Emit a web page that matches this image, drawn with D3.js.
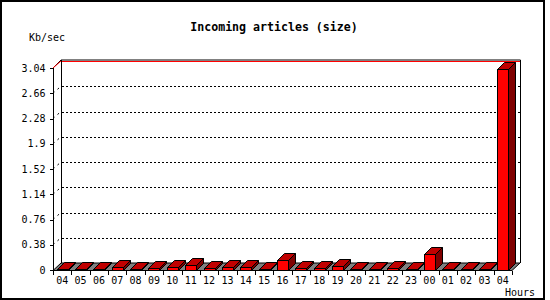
<!DOCTYPE html>
<html>
<head>
<meta charset="utf-8">
<script src="https://cdn.jsdelivr.net/npm/d3@7"></script>
<style>
body { margin: 0; background: #fff; }
svg { display: block; shape-rendering: crispEdges; }
text { font-family: "DejaVu Sans Mono", monospace; fill: #000; }
</style>
</head>
<body>
<div class="chart"></div>
<script>
// hours of the day (last 24h window)
const hours = ["04","05","06","07","08","09","10","11","12","13","14","15","16",
  "17","18","19","20","21","22","23","00","01","02","03","04"];
// incoming size, Kb/sec
const kbps = [0.01,0.01,0.01,0.04,0.02,0.03,0.05,0.07,0.03,0.05,0.05,0.02,0.15,
  0.03,0.03,0.06,0.02,0.02,0.03,0.02,0.24,0.02,0.02,0.01,3.03];
const yTicks = [0,0.38,0.76,1.14,1.52,1.9,2.28,2.66,3.04];

const width = 550, height = 300;
const plotLeft = 53, plotRight = 512, plotTop = 68, plotBottom = 270;
const DX = 8, DY = -7;      // depth of the back wall
const BX = 7, BY = -7;      // depth of a bar

const svg = d3.select(".chart").append("svg")
  .attr("width", width).attr("height", height);

// outer frame
svg.append("rect")
  .attr("x", 1).attr("y", 1).attr("width", 543).attr("height", 298)
  .attr("fill", "none").attr("stroke", "#000").attr("stroke-width", 2);

const x = d3.scaleBand().domain(d3.range(hours.length))
  .range([plotLeft, plotRight]).paddingInner(0.4).paddingOuter(0.2);
const step = x.step();
const y = d3.scaleLinear().domain([0, 3.04]).range([plotBottom, plotTop]);

svg.append("text").attr("x", 274).attr("y", 31)
  .attr("text-anchor", "middle").style("font-size", "11.6px").style("font-weight", "bold")
  .text("Incoming articles (size)");
svg.append("text").attr("x", 29).attr("y", 41).style("font-size", "10px").text("Kb/sec");
svg.append("text").attr("x", 505).attr("y", 296).style("font-size", "10px").text("Hours");

// back wall frame
const backTop = y(3.04) + DY - 1;
svg.append("path")
  .attr("d", `M${plotLeft},${y(3.04)}L${plotLeft + DX},${backTop}L${plotRight + DX + 0.5},${backTop}L${plotRight + DX + 0.5},${plotBottom + DY}`
    + `M${plotLeft + DX + 0.5},${backTop}L${plotLeft + DX + 0.5},${plotBottom + DY}`)
  .attr("fill", "none").attr("stroke", "#000").attr("shape-rendering", "auto");

// grid lines on the back wall
const grid = svg.append("g");
yTicks.slice(1).forEach(v => {
  const yy = Math.round(y(v) + DY) + 0.5;
  const last = v === 3.04;
  grid.append("line")
    .attr("x1", plotLeft + DX + 1).attr("x2", plotRight + DX)
    .attr("y1", yy).attr("y2", yy)
    .attr("stroke", last ? "#f00" : "#000")
    .attr("stroke-dasharray", last ? null : "2,2");
  grid.append("line")
    .attr("x1", plotLeft).attr("y1", y(v))
    .attr("x2", plotLeft + DX).attr("y2", y(v) + DY)
    .attr("stroke", last ? "#f00" : "#000")
    .attr("stroke-dasharray", last ? null : "2,4")
    .attr("shape-rendering", "auto");
});

// floor
svg.append("path")
  .attr("d", `M${plotLeft},${plotBottom + 0.5}L${plotRight},${plotBottom + 0.5}L${plotRight + DX},${plotBottom + DY}L${plotLeft + DX},${plotBottom + DY}Z`)
  .attr("fill", "#808080").attr("stroke", "#000").attr("shape-rendering", "auto");

// 3d bars
const bars = svg.append("g").selectAll("g").data(kbps).enter().append("g");
bars.each(function(d, i) {
  const g = d3.select(this);
  const x0 = Math.round(x(i)) + 0.5, x1 = x0 + Math.round(x.bandwidth());
  const y0 = plotBottom + 0.5, y1 = Math.round(y(d)) + 0.5;
  g.append("path")
    .attr("d", `M${x1},${y1}L${x1 + BX},${y1 + BY}L${x1 + BX},${y0 + BY}L${x1},${y0}Z`)
    .attr("fill", "#800000").attr("stroke", "#000").attr("shape-rendering", "auto");
  g.append("path")
    .attr("d", `M${x0},${y1}L${x0 + BX},${y1 + BY}L${x1 + BX},${y1 + BY}L${x1},${y1}Z`)
    .attr("fill", "#c00000").attr("stroke", "#000").attr("shape-rendering", "auto");
  g.append("rect")
    .attr("x", x0).attr("y", y1).attr("width", x1 - x0).attr("height", Math.max(0, y0 - y1))
    .attr("fill", "#f00").attr("stroke", "#000");
});

// y axis
const yAxis = svg.append("g").attr("transform", `translate(${plotLeft + 0.5},0)`)
  .call(d3.axisLeft(y).tickValues(yTicks).tickSize(4).tickPadding(4)
    .tickFormat(d => String(+d.toFixed(2))));
yAxis.select(".domain").attr("d", `M0,${y(3.04)}V${plotBottom + 0.5}`);
yAxis.selectAll("text").style("font-size", "10px").attr("font-family", null);

// x axis labels + ticks at category boundaries
const xAxis = svg.append("g").attr("transform", `translate(0,${plotBottom + 0.5})`)
  .call(d3.axisBottom(x).tickSize(0).tickPadding(6).tickFormat(i => hours[i]));
xAxis.select(".domain").attr("d", `M${plotLeft},0H${plotRight}`);
xAxis.selectAll("text").style("font-size", "10px").attr("font-family", null);
xAxis.selectAll(".edge").data(d3.range(hours.length + 1)).enter().append("line")
  .attr("class", "edge")
  .attr("x1", i => Math.round(plotLeft + i * step) + 0.5).attr("x2", i => Math.round(plotLeft + i * step) + 0.5)
  .attr("y1", 0).attr("y2", 4).attr("stroke", "#000");
</script>
</body>
</html>
